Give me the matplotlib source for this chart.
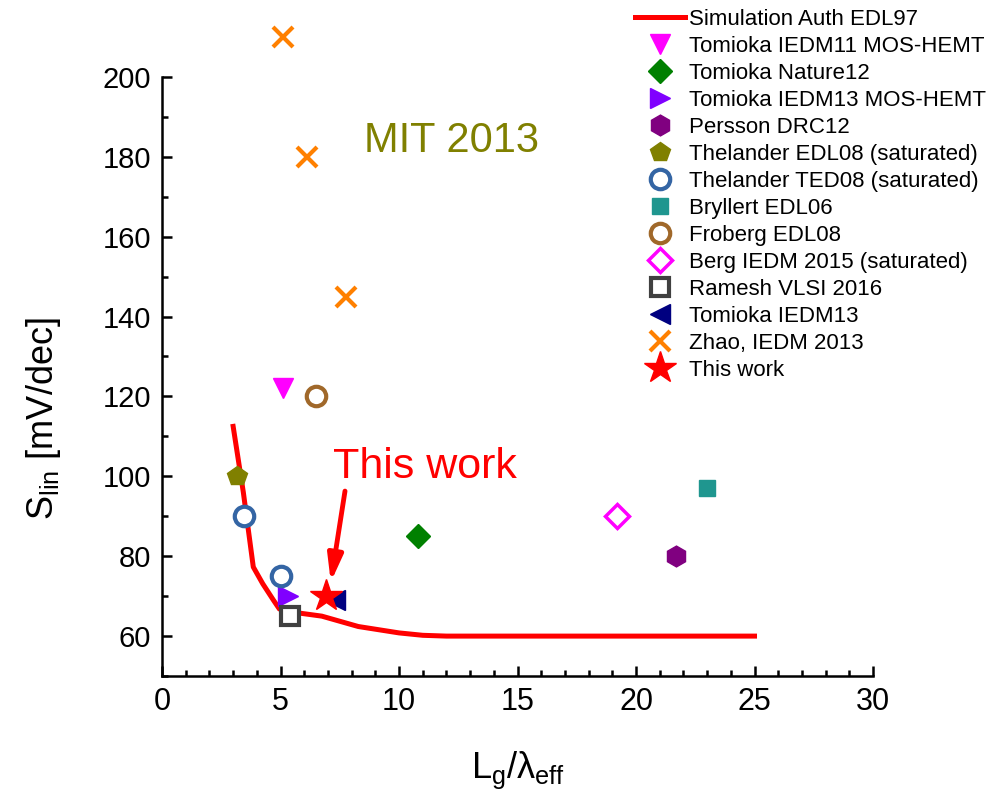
import numpy as np
from matplotlib import pyplot as plt
from matplotlib.ticker import MultipleLocator

plt.rcParams['font.family'] = ['Liberation Sans', 'DejaVu Sans']
plt.rcParams['mathtext.fontset'] = 'custom'
plt.rcParams['mathtext.rm'] = 'Liberation Sans'
plt.rcParams['mathtext.it'] = 'Liberation Sans'

# simulation curve
sim_x = [3.0, 3.43, 3.85, 4.25, 4.7, 4.95, 5.5, 6.74, 8.28, 10.0, 11.0, 12.0, 25.0]
sim_y = [112.5, 96.0, 77.3, 73.1, 69.0, 66.8, 66.0, 65.0, 62.4, 60.8, 60.2, 60.0, 60.0]

# measured points
tom11_x, tom11_y = [5.1], [122]
nat12_x, nat12_y = [10.8], [85]
tom13mos_x, tom13mos_y = [5.3], [70]
persson_x, persson_y = [21.7], [80]
thel08_x, thel08_y = [3.16], [100]
ted08_x, ted08_y = [3.46, 5.0], [90, 75]
bryl_x, bryl_y = [23.0], [97]
frob_x, frob_y = [6.5], [120]
berg_x, berg_y = [19.2], [90]
ramesh_x, ramesh_y = [5.4], [65]
tom13_x, tom13_y = [7.3], [69]
zhao_x, zhao_y = [5.1, 6.1, 7.76], [210, 180, 145]
work_x, work_y = [6.9], [70]

fig, ax = plt.subplots(figsize=(9.96, 8.01), dpi=100)
fig.subplots_adjust(left=0.1627, right=0.8765, bottom=0.156, top=0.904)

ax.plot(sim_x, sim_y, '-', color='#ff0000', lw=3.6, label='Simulation Auth EDL97', zorder=2)

kw = dict(linestyle='none', clip_on=False, zorder=3)
ax.plot(tom11_x, tom11_y, marker='v', ms=15, color='#ff00ff', mec='#ff00ff', label='Tomioka IEDM11 MOS-HEMT', **kw)
ax.plot(nat12_x, nat12_y, marker='D', ms=12, color='#008000', label='Tomioka Nature12', **kw)
ax.plot(tom13mos_x, tom13mos_y, marker='>', ms=15, color='#8000ff', label='Tomioka IEDM13 MOS-HEMT', **kw)
ax.plot(persson_x, persson_y, marker='h', ms=15, color='#800080', label='Persson DRC12', **kw)
ax.plot(thel08_x, thel08_y, marker='p', ms=15, color='#808000', label='Thelander EDL08 (saturated)', **kw)
ax.plot(ted08_x, ted08_y, marker='o', ms=14, mfc='white', mec='#3465a4', mew=3, label='Thelander TED08 (saturated)', **kw)
ax.plot(bryl_x, bryl_y, marker='s', ms=12, color='#1f968f', label='Bryllert EDL06', **kw)
ax.plot(frob_x, frob_y, marker='o', ms=14, mfc='white', mec='#a0682a', mew=3, label='Froberg EDL08', **kw)
ax.plot(berg_x, berg_y, marker='D', ms=12, mfc='white', mec='#ff00ff', mew=2.5, label='Berg IEDM 2015 (saturated)', **kw)
ax.plot(ramesh_x, ramesh_y, marker='s', ms=13, mfc='white', mec='#404040', mew=3, label='Ramesh VLSI 2016', **kw)
ax.plot(tom13_x, tom13_y, marker='<', ms=15, color='#000080', label='Tomioka IEDM13', **kw)
ax.plot(zhao_x, zhao_y, marker='x', ms=15, mec='#ff8000', mew=3, label='Zhao, IEDM 2013', **kw)
ax.plot(work_x, work_y, marker='*', ms=24, color='#ff0000', label='This work', zorder=4,
        linestyle='none', clip_on=False)

ax.text(12.2, 184, 'MIT 2013', color='#808000', fontsize=30, ha='center', va='center')
ax.text(7.2, 99.5, 'This work', color='#ff0000', fontsize=31, ha='left', va='baseline')
ax.annotate('', xy=(7.12, 73.5), xytext=(7.72, 96.3),
            arrowprops=dict(arrowstyle='-|>,head_length=1.6,head_width=0.45',
                            color='#ff0000', lw=3.5, shrinkA=0, shrinkB=0))

ax.set_xlim(0, 30)
ax.set_ylim(50, 200)
ax.xaxis.set_major_locator(MultipleLocator(5))
ax.xaxis.set_minor_locator(MultipleLocator(1))
ax.yaxis.set_minor_locator(MultipleLocator(10))
ax.set_yticks([60, 80, 100, 120, 140, 160, 180, 200])
ax.spines['top'].set_visible(False)
ax.spines['right'].set_visible(False)
for s in ['left', 'bottom']:
    ax.spines[s].set_linewidth(1.8)
ax.tick_params(which='major', direction='in', length=7, width=1.8, labelsize=21, pad=8)
ax.tick_params(which='minor', direction='in', length=4, width=1.8)
ax.tick_params(axis='x', labelsize=22)

ax.set_xlabel(r'L$_{\rm g}$/$\lambda_{\rm eff}$', fontsize=26)
ax.set_ylabel(r'S$_{\rm lin}$ [mV/dec]', fontsize=26)
ax.xaxis.set_label_coords(0.5, -0.122)
ax.yaxis.set_label_coords(-0.14, 0.43)

ax.legend(loc='upper left', bbox_to_anchor=(0.629, 1.0), bbox_transform=fig.transFigure,
          frameon=False, fontsize=16, labelspacing=0.27, handlelength=2.25,
          handletextpad=0.15, borderaxespad=0, numpoints=1)

fig.savefig('out.png', dpi=100)
